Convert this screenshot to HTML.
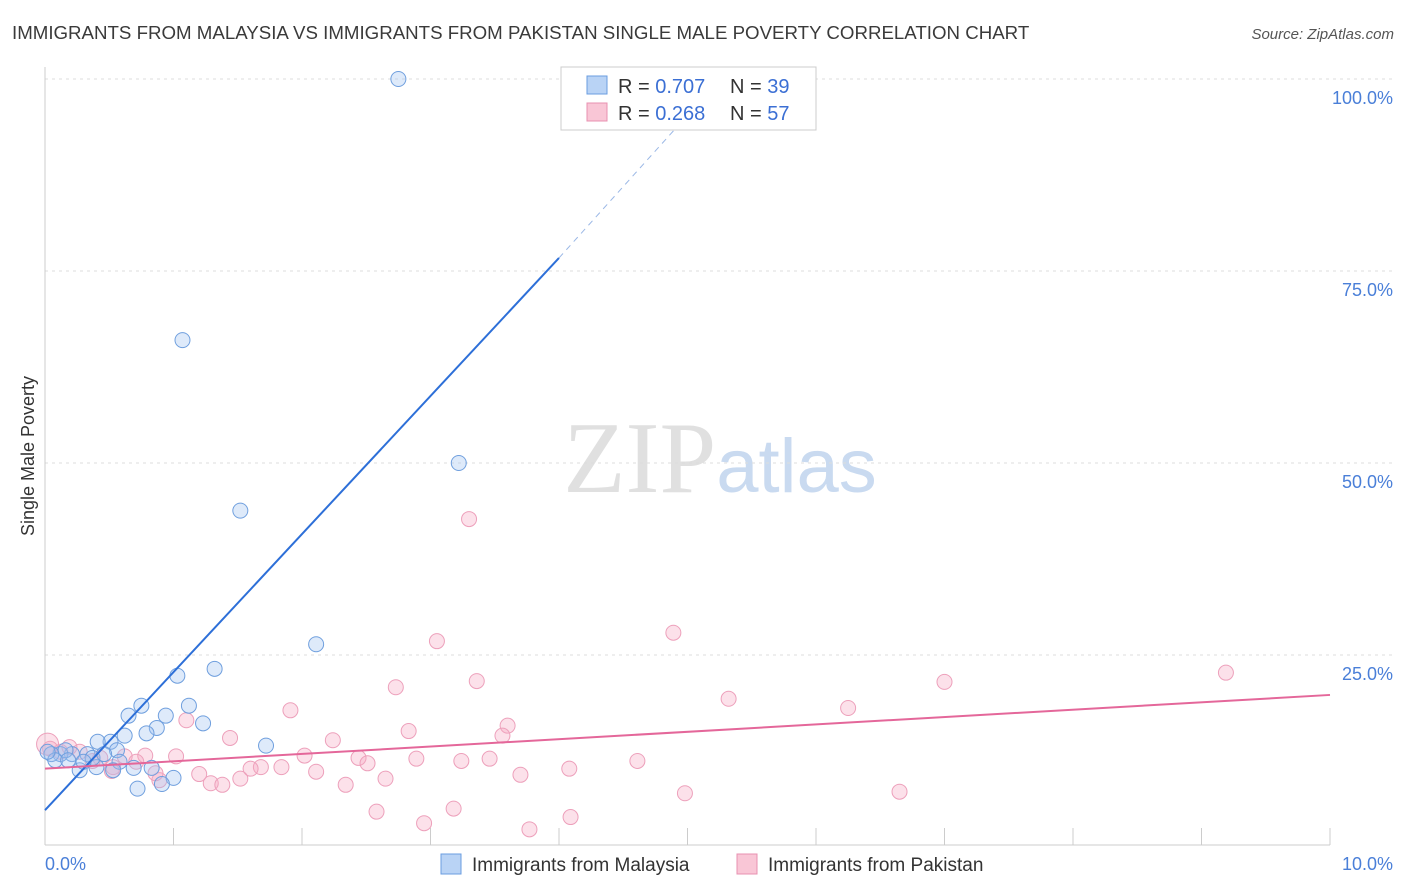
<!DOCTYPE html>
<html><head><meta charset="utf-8">
<style>
body{margin:0;background:#fff;font-family:"Liberation Sans",sans-serif;}
svg{display:block}
</style></head>
<body>
<svg id="chart" width="1406" height="892" viewBox="0 0 1406 892">
<text x="12" y="39" font-size="18.7" fill="#3a3a3a">IMMIGRANTS FROM MALAYSIA VS IMMIGRANTS FROM PAKISTAN SINGLE MALE POVERTY CORRELATION CHART</text>
<text x="1394" y="39" font-size="15" fill="#555" font-style="italic" text-anchor="end">Source: ZipAtlas.com</text>
<text x="720" y="492" font-size="102" fill="#e0e0e0" text-anchor="middle" font-family="Liberation Serif,serif">ZIP<tspan fill="#c9daf0" font-family="Liberation Sans,sans-serif" font-size="76">atlas</tspan></text>
<text transform="translate(34,456) rotate(-90)" font-size="18" fill="#333" text-anchor="middle">Single Male Poverty</text>
<g id="grid"></g>
<g id="marks"></g>
<g>
<rect x="561" y="67" width="255" height="63" fill="#fff" stroke="#ccc"/>
<rect x="587" y="76" width="20" height="18" fill="#b9d3f5" stroke="#6a9de0"/>
<rect x="587" y="103" width="20" height="18" fill="#f9c6d6" stroke="#e890b0"/>
<text x="618" y="93" font-size="20" fill="#333">R = <tspan fill="#3b6fd4">0.707</tspan></text>
<text x="730" y="93" font-size="20" fill="#333">N = <tspan fill="#3b6fd4">39</tspan></text>
<text x="618" y="120" font-size="20" fill="#333">R = <tspan fill="#3b6fd4">0.268</tspan></text>
<text x="730" y="120" font-size="20" fill="#333">N = <tspan fill="#3b6fd4">57</tspan></text>
</g>
<g>
<rect x="441" y="854" width="20" height="20" fill="#b9d3f5" stroke="#6a9de0"/>
<text x="472" y="871" font-size="19" fill="#333">Immigrants from Malaysia</text>
<rect x="737" y="854" width="20" height="20" fill="#f9c6d6" stroke="#e890b0"/>
<text x="768" y="871" font-size="19" fill="#333">Immigrants from Pakistan</text>
</g>
</svg>
<script>
const yTicks=[25,50,75,100];
const yTickLabels=["25.0%","50.0%","75.0%","100.0%"];
const xTicks=[0,1,2,3,4,5,6,7,8,9,10];
const malaysiaX=[2.75,1.07,3.22,1.52,2.11,1.32,1.03,1.12,0.75,0.94,0.65,0.87,0.79,1.23,1.72,0.62,0.51,0.41,0.56,0.33,0.21,0.12,0.05,0.08,0.27,0.40,0.58,0.69,0.83,1.00,0.91,0.72,0.53,0.16,0.02,0.18,0.37,0.46,0.30];
const malaysiaY=[100,66.0,50.0,43.8,26.4,23.2,22.3,18.4,18.4,17.1,17.1,15.5,14.8,16.1,13.2,14.5,13.7,13.7,12.6,12.1,12.1,12.1,12.1,11.3,10.0,10.4,11.1,10.3,10.3,9.0,8.2,7.6,10.0,12.6,12.4,11.3,11.6,12.1,11.1];
const pakistanX=[3.30,4.89,3.05,2.73,3.36,5.32,6.25,7.00,9.19,1.91,1.10,1.44,2.24,2.83,3.60,3.56,1.02,0.78,2.02,2.44,2.51,2.89,3.24,3.46,4.61,4.08,3.70,2.11,1.68,1.84,1.60,1.20,1.52,1.29,1.38,0.89,2.34,2.65,2.58,3.18,2.95,4.09,3.77,4.98,6.65,0.53,0.27,0.12,0.43,0.62,0.71,0.19,0.04,0.37,0.52,0.02,0.86];
const pakistanY=[42.7,27.9,26.8,20.8,21.6,19.3,18.1,21.5,22.7,17.8,16.5,14.2,13.9,15.1,15.8,14.5,11.8,11.9,11.9,11.6,10.9,11.5,11.2,11.5,11.2,10.2,9.4,9.8,10.4,10.4,10.2,9.5,8.9,8.3,8.1,8.7,8.1,8.9,4.6,5.0,3.1,3.9,2.3,7.0,7.2,10.4,12.4,12.4,11.6,11.8,11.1,13.0,12.8,11.2,9.9,13.4,9.6];
const blueLine=[0,4.8,4.0,76.7];
const blueDash=[4.0,76.7,5.2,99];
const pinkLine=[0,10.2,10,19.8];
const X=v=>45+v*128.5, Y=v=>847-v*7.68;
const NS="http://www.w3.org/2000/svg";
const grid=document.getElementById('grid'), marks=document.getElementById('marks');
function mk(p,tag,a){const e=document.createElementNS(NS,tag);for(const k in a)e.setAttribute(k,a[k]);p.appendChild(e);return e;}
yTicks.forEach((t,i)=>{
 const l=mk(grid,'line',{x1:45,x2:1394,y1:Y(t),y2:Y(t),stroke:'#ddd','stroke-dasharray':'3,4'});
 
 
 const tx=mk(grid,'text',{x:1393,y:Y(t)+25,'font-size':18,fill:'#4a7fd8','text-anchor':'end'});
 tx.textContent=yTickLabels[i];
 
 
});
const ax=mk(grid,'line',{x1:45,x2:45,y1:67,y2:845,stroke:'#ccc'});


const bx=mk(grid,'line',{x1:45,x2:1330,y1:845,y2:845,stroke:'#ccc'});


xTicks.forEach(t=>{
 const l=mk(grid,'line',{x1:X(t),x2:X(t),y1:828,y2:845,stroke:'#ccc'});
 
 
});
[[0,"0.0%","start",45],[10,"10.0%","end",1393]].forEach(d=>{
 const tx=mk(grid,'text',{x:d[3],y:870,'font-size':18,fill:'#4a7fd8','text-anchor':d[2]});
 tx.textContent=d[1];
 
 
});
pakistanX.forEach((x,i)=>{
 const c=mk(marks,'circle',{cx:X(x),cy:Y(pakistanY[i]),r:i==55?11:7.5,fill:'rgba(247,170,195,0.35)',stroke:'#eda0bb','stroke-width':1});
 
 
});
malaysiaX.forEach((x,i)=>{
 const c=mk(marks,'circle',{cx:X(x),cy:Y(malaysiaY[i]),r:i==54?10:7.5,fill:'rgba(160,195,240,0.35)',stroke:'#6f9fde','stroke-width':1});
 
 
});
const b=mk(marks,'line',{x1:X(blueLine[0]),y1:Y(blueLine[1]),x2:X(blueLine[2]),y2:Y(blueLine[3]),stroke:'#2d6fd8','stroke-width':2});


const bd=mk(marks,'line',{x1:X(blueDash[0]),y1:Y(blueDash[1]),x2:X(blueDash[2]),y2:Y(blueDash[3]),stroke:'#9bb8e6','stroke-width':1,'stroke-dasharray':'6,5'});


const p=mk(marks,'line',{x1:X(pinkLine[0]),y1:Y(pinkLine[1]),x2:X(pinkLine[2]),y2:Y(pinkLine[3]),stroke:'#e4679a','stroke-width':2});


</script>
</body></html>
